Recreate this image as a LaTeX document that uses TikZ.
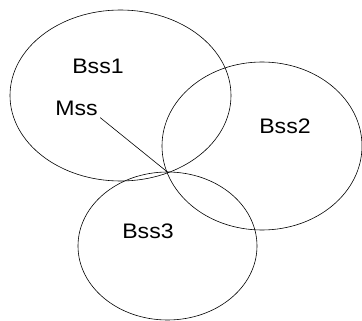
\documentclass[tikz,border=0pt]{standalone}
\usepackage{fontspec}
\setmainfont{Liberation Sans}
\begin{document}
\begin{tikzpicture}[x=1pt, y=-1pt, line width=0.6pt,
    every node/.style={font=\fontsize{21}{25}\selectfont, inner sep=2pt, xscale=1.1}]
  \useasboundingbox (0,0) rectangle (362,321);
  % coverage areas of the base stations
  \draw (120.5,95.5) ellipse [x radius=110.5, y radius=85.5];
  \draw (262,146) ellipse [x radius=100, y radius=84];
  \draw (167.5,246) ellipse [x radius=89.5, y radius=74];
  \node (bss1) at (98,66.5) {Bss1};
  \node (bss2) at (285,126.5) {Bss2};
  \node (bss3) at (148,231.5) {Bss3};
  % mobile station sits where the three cells meet
  \node (mss) at (76.5,108) {Mss};
  \coordinate (hub) at (168.3,172.7);
  \draw (mss.south east) -- (hub);
\end{tikzpicture}
\end{document}
